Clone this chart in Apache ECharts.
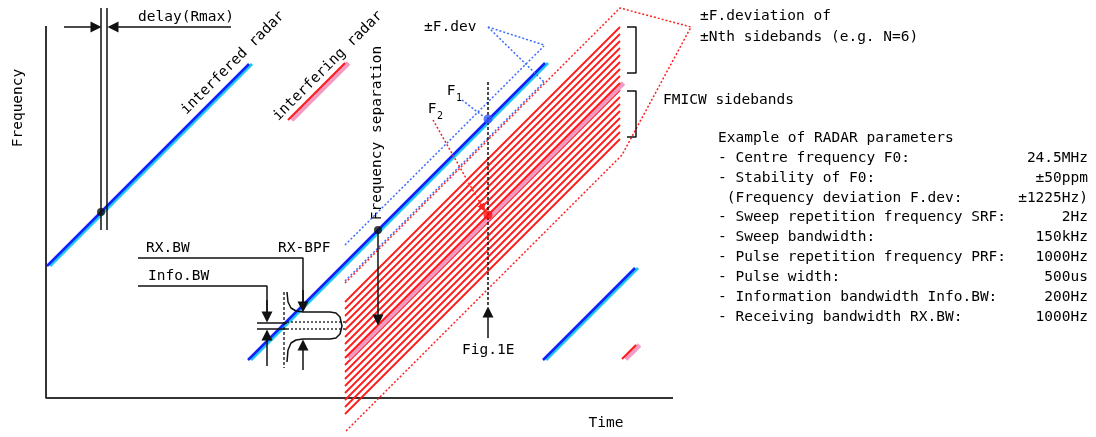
<!DOCTYPE html>
<html>
<head>
<meta charset="utf-8">
<script src="https://cdn.jsdelivr.net/npm/echarts@6.0.0/dist/echarts.min.js"></script>
<style>
  html, body { margin: 0; padding: 0; background: #fff; }
  #chart { width: 1096px; height: 437px; }
</style>
</head>
<body>
<div id="chart"></div>
<script>
// schematic coordinates: x = time, y = frequency (axes span the canvas, y downward)
const axisFrame = [[46, 26], [46, 398], [673, 398]];

const interferedChirps = [
  [[47, 266], [249, 64]],
  [[248, 360], [545, 63]],
  [[543, 360], [635, 268]]
];
const interferingChirps = [
  [[288, 120], [345, 63]],
  [[345, 358], [620, 83]],
  [[622, 359], [636, 345]]
];
// FMICW sidebands: frequency shift of each line from the interfering chirp
const sidebandShifts = [-56, -49, -42, -35, -28, -21, -14, -7, 7, 14, 21, 28, 35, 42, 49, 56];
// +-F.dev around the interfered chirp
const fDevSpan = [[345, 263], [544, 64]];
const fDevShifts = [-18, 18];
const fDevEnvelope = [[345, 283], [620, 8], [691, 27], [622, 155], [345, 432]];

const delayLines = [[[101, 8], [101, 230]], [[107, 8], [107, 230]]];
const brackets = [
  [[627, 27], [636, 27], [636, 73], [627, 73]],
  [[627, 91], [636, 91], [636, 137], [627, 137]]
];
const leaderLines = [
  [[138, 258], [303, 258], [303, 305]],
  [[138, 286], [267, 286], [267, 315]]
];
const arrowSegments = [
  [[64, 27], [96, 27]],
  [[231, 27], [113, 27]],
  [[378, 232], [378, 320]],
  [[488, 338], [488, 312]],
  [[303, 290], [303, 307]],
  [[267, 300], [267, 317]],
  [[267, 366], [267, 335]],
  [[303, 370], [303, 345]]
];
const filterOutline = [
  [287, 292], [288, 302], [291, 308], [296, 311], [303, 312], [330, 312],
  [336, 313], [340, 317], [342, 326], [340, 334], [336, 338], [330, 339],
  [303, 339], [296, 340], [291, 343], [288, 350], [287, 362]
];
const infoBwSolid = [[[257, 323], [287, 323]], [[257, 329], [287, 329]]];
const infoBwDotted = [[[287, 322], [347, 322]], [[287, 329], [347, 329]]];
const filterCentre = [[284, 292], [284, 368]];
const fig1eMarker = [[488, 82], [488, 305]];

const blackDots = [[101, 212], [378, 230]];
const f1Point = [[488, 119]];
const f2Point = [[488, 215]];
const fDevLeaders = [[[488, 27], [544, 45]], [[488, 27], [544, 82]], [[462, 100], [484, 117]]];
const f2Leader = [[433, 120], [483, 208]];

const paramLabels = [
  '- Centre frequency F0:',
  '- Stability of F0:',
  ' (Frequency deviation F.dev:',
  '- Sweep repetition frequency SRF:',
  '- Sweep bandwidth:',
  '- Pulse repetition frequency PRF:',
  '- Pulse width:',
  '- Information bandwidth Info.BW:',
  '- Receiving bandwidth RX.BW:'
];
const paramValues = ['24.5MHz', '±50ppm', '±1225Hz)', '2Hz', '150kHz', '1000Hz', '500us', '200Hz', '1000Hz'];

const shift = (pts, dx, dy) => pts.map(([x, y]) => [x + dx, y + dy]);
const path = (pts, color, width, type, z) => ({
  type: 'line', data: pts, showSymbol: false, symbol: 'none', silent: true,
  animation: false, z: z || 2,
  lineStyle: { color: color, width: width, type: type || 'solid', cap: 'butt' }
});
const DOT = [2, 2];

const series = [];
series.push(path(axisFrame, '#333', 2, 'solid', 2));

// sidebands underneath, pink trail above them, red chirp lines on top
sidebandShifts.forEach(s => {
  series.push(path(shift(interferingChirps[1], 0, s), '#ff1a1a', 1.8, 'solid', 2));
});
interferingChirps.forEach(c => {
  series.push(path(shift(c, 3.5, 0), '#f59ac2', 5, 'solid', 3));
});
interferingChirps.forEach(c => {
  series.push(path(c, '#ff1a1a', 2, 'solid', 4));
});
interferedChirps.forEach(c => {
  series.push(path(shift(c, 3, 0), '#1ec8f5', 3, 'solid', 5));
  series.push(path(c, '#1020ff', 2.5, 'solid', 6));
});
fDevShifts.forEach(s => series.push(path(shift(fDevSpan, 0, s), '#3a6cff', 1.5, DOT, 7)));
series.push(path(fDevEnvelope, '#ff2020', 1.5, DOT, 7));
fDevLeaders.forEach(p => series.push(path(p, '#3a6cff', 1.5, DOT, 7)));
series.push(path(f2Leader, '#ff2020', 1.5, DOT, 7));
series.push(path(fig1eMarker, '#111', 1.5, [3, 2], 7));

delayLines.concat(brackets, leaderLines, infoBwSolid).forEach(p => series.push(path(p, '#111', 1.5, 'solid', 7)));
infoBwDotted.forEach(p => series.push(path(p, '#111', 1.3, DOT, 7)));
series.push(path(filterCentre, '#111', 1.3, [3, 2], 7));
series.push(path(filterOutline, '#111', 1.5, 'solid', 7));

series.push({
  type: 'lines', coordinateSystem: 'cartesian2d', silent: true, animation: false, z: 8,
  symbol: ['none', 'triangle'], symbolSize: [9, 11],
  lineStyle: { color: '#111', width: 1.5, opacity: 1 },
  data: arrowSegments.map(c => ({ coords: c }))
});
series.push({
  type: 'lines', coordinateSystem: 'cartesian2d', silent: true, animation: false, z: 8,
  symbol: ['none', 'triangle'], symbolSize: [6, 8],
  lineStyle: { color: '#ff2020', width: 0, opacity: 1 },
  data: [{ coords: f2Leader }]
});
series.push({ type: 'scatter', data: blackDots, symbolSize: 8, itemStyle: { color: '#111' }, z: 9, silent: true, animation: false });
series.push({ type: 'scatter', data: f1Point, symbolSize: 9, itemStyle: { color: '#3355ff' }, z: 9, silent: true, animation: false });
series.push({ type: 'scatter', data: f2Point, symbolSize: 9, itemStyle: { color: '#ff1010' }, z: 9, silent: true, animation: false });

const FONT = '"DejaVu Sans Mono", "Liberation Mono", monospace';
const txt = (text, x, y, align, rot, size) => ({
  type: 'text', x: x, y: y, rotation: rot || 0, silent: true,
  style: {
    text: text, fill: '#000', font: (size || 14.5) + 'px ' + FONT,
    align: align || 'left', verticalAlign: 'middle',
    textAlign: align || 'left', textVerticalAlign: 'middle'
  }
});
const labels = [
  txt('delay(Rmax)', 138, 17),
  txt('Frequency', 18, 108, 'center', Math.PI / 2),
  txt('Time', 606, 423, 'center'),
  txt('interfered radar', 233, 63, 'center', Math.PI / 4),
  txt('interfering radar', 328, 66, 'center', Math.PI / 4),
  txt('Frequency separation', 377, 133, 'center', Math.PI / 2),
  txt('±F.dev', 424, 27),
  txt('F', 451, 91, 'center'),
  txt('1', 459, 98, 'center', 0, 10),
  txt('F', 432, 109, 'center'),
  txt('2', 440, 116, 'center', 0, 10),
  txt('RX.BW', 146, 248),
  txt('Info.BW', 148, 276),
  txt('RX-BPF', 278, 248),
  txt('Fig.1E', 462, 350),
  txt('±F.deviation of', 700, 16),
  txt('±Nth sidebands (e.g. N=6)', 700, 37),
  txt('FMICW sidebands', 663, 100),
  txt('Example of RADAR parameters', 718, 138)
];
paramLabels.forEach((t, i) => labels.push(txt(t, 718, 158 + i * 19.9)));
paramValues.forEach((t, i) => labels.push(txt(t, 1088, 158 + i * 19.9, 'right')));

const chart = echarts.init(document.getElementById('chart'));
chart.setOption({
  animation: false,
  backgroundColor: '#fff',
  grid: { left: 0, right: 0, top: 0, bottom: 0 },
  xAxis: { type: 'value', min: 0, max: 1096, show: false },
  yAxis: { type: 'value', min: 0, max: 437, inverse: true, show: false },
  series: series,
  graphic: labels
});
</script>
</body>
</html>
